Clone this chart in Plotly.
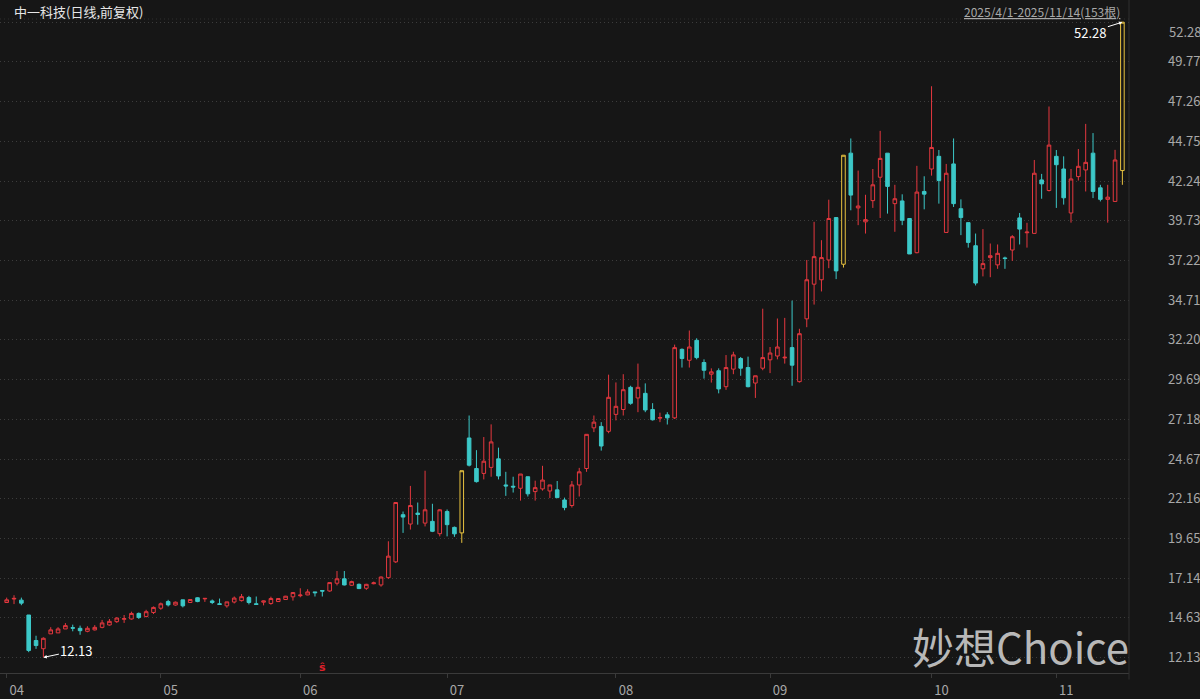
import plotly.graph_objects as go

# 中一科技 日线 前复权 2025/4/1-2025/11/14, 153 bars
opens = [
    15.60, 15.82, 15.75, 14.81, 13.20, 12.68, 13.62, 13.68, 13.93, 14.01,
    13.97, 13.78, 13.87, 14.03, 14.18, 14.39, 14.54, 14.56, 14.91, 14.72,
    14.97, 15.24, 15.66, 15.44, 15.77, 15.60, 15.90, 15.83, 15.70, 15.52,
    15.39, 15.63, 15.72, 15.91, 15.52, 15.62, 15.54, 15.66, 15.79, 15.96,
    16.03, 16.08, 16.27, 16.36, 16.33, 16.82, 17.10, 16.69, 16.75, 16.50,
    16.79, 16.71, 17.17, 18.17, 21.15, 20.56, 21.25, 20.62, 20.73, 19.95,
    21.35, 20.35, 20.00, 26.00, 24.07, 23.76, 24.14, 24.68, 23.03, 22.95,
    22.82, 23.55, 22.61, 22.78, 22.65, 22.72, 22.08, 21.73, 23.03, 24.07,
    26.64, 26.73, 26.42, 27.49, 27.80, 29.20, 28.53, 28.82, 27.80, 27.25,
    27.46, 27.27, 31.60, 30.91, 32.17, 30.77, 30.03, 30.25, 29.24, 30.35,
    31.02, 30.45, 29.47, 30.41, 30.94, 31.18, 31.06, 31.71, 29.56, 33.53,
    35.72, 36.00, 37.25, 39.93, 36.98, 44.00, 40.54, 39.66, 41.00, 42.48,
    44.00, 40.81, 40.98, 39.87, 37.71, 41.58, 43.00, 43.80, 38.99, 43.32,
    40.49, 39.61, 38.15, 36.69, 37.40, 36.94, 37.38, 37.88, 39.91, 38.97,
    38.93, 42.31, 41.64, 43.80, 43.00, 40.22, 42.52, 42.94, 44.00, 41.81,
    41.08, 40.95, 42.90,
]
highs = [
    15.91, 16.06, 15.91, 14.81, 13.50, 13.40, 14.04, 14.04, 14.30, 14.20,
    14.14, 14.10, 14.17, 14.50, 14.56, 14.66, 14.81, 15.02, 14.97, 15.14,
    15.35, 15.60, 15.77, 15.66, 15.77, 15.82, 15.93, 15.86, 15.79, 15.85,
    15.64, 15.98, 16.14, 16.02, 15.98, 15.72, 15.97, 15.88, 16.02, 16.25,
    16.50, 16.44, 16.27, 16.36, 16.88, 17.59, 17.59, 16.98, 16.80, 16.78,
    16.92, 17.25, 19.47, 21.95, 21.35, 22.97, 21.92, 23.93, 21.84, 21.50,
    21.48, 20.40, 23.93, 27.42, 25.23, 26.06, 26.86, 25.39, 23.86, 23.55,
    23.72, 23.55, 23.30, 24.24, 23.03, 23.28, 22.23, 23.28, 24.11, 26.23,
    27.42, 27.00, 30.00, 29.51, 30.03, 29.30, 30.70, 29.45, 28.20, 27.60,
    27.63, 31.90, 31.66, 32.79, 32.30, 30.97, 30.40, 30.40, 31.24, 31.45,
    31.12, 31.14, 29.93, 34.17, 31.75, 33.55, 33.59, 34.68, 32.90, 37.25,
    39.66, 38.50, 41.06, 39.93, 43.87, 44.93, 42.90, 41.37, 43.00, 45.41,
    44.00, 42.00, 41.40, 39.87, 43.20, 42.54, 48.23, 44.20, 43.32, 44.93,
    41.08, 39.61, 38.92, 39.20, 38.29, 38.23, 37.46, 38.82, 40.22, 39.60,
    43.57, 42.69, 46.95, 44.20, 43.80, 43.00, 44.26, 45.85, 45.27, 42.00,
    42.00, 44.21, 52.28,
]
lows = [
    15.58, 15.50, 15.43, 12.46, 12.67, 12.13, 13.62, 13.68, 13.93, 13.78,
    13.56, 13.72, 13.83, 13.97, 14.14, 14.31, 14.31, 14.52, 14.56, 14.66,
    14.87, 15.14, 15.35, 15.40, 15.29, 15.58, 15.62, 15.64, 15.50, 15.48,
    15.27, 15.54, 15.66, 15.48, 15.48, 15.42, 15.46, 15.64, 15.77, 15.72,
    15.93, 16.06, 15.98, 15.98, 16.28, 16.68, 16.68, 16.66, 16.45, 16.40,
    16.75, 16.60, 17.10, 18.10, 20.00, 20.21, 20.52, 20.41, 20.05, 19.78,
    19.78, 19.75, 19.37, 24.20, 23.18, 23.38, 23.55, 23.38, 22.34, 22.55,
    22.04, 22.30, 22.04, 22.67, 22.20, 22.20, 21.43, 21.60, 22.30, 23.86,
    26.37, 25.20, 26.30, 27.11, 27.42, 28.10, 27.63, 27.63, 27.10, 27.00,
    26.85, 27.20, 30.45, 30.45, 30.97, 29.75, 29.50, 28.82, 29.04, 30.03,
    29.93, 29.20, 28.53, 30.28, 30.10, 30.97, 30.70, 29.30, 29.50, 33.00,
    34.43, 35.26, 36.73, 36.04, 36.77, 40.39, 39.45, 38.92, 40.54, 39.90,
    40.18, 39.03, 39.45, 37.63, 37.67, 40.45, 42.58, 40.81, 38.99, 40.60,
    38.82, 38.03, 35.64, 36.21, 36.16, 36.69, 36.69, 37.19, 38.23, 38.03,
    38.93, 41.12, 41.58, 40.54, 40.75, 39.61, 42.27, 41.58, 41.16, 40.95,
    39.61, 40.95, 42.00,
]
closes = [
    15.77, 15.86, 15.56, 12.57, 12.88, 13.34, 13.87, 13.93, 14.14, 13.98,
    13.82, 13.97, 14.03, 14.31, 14.41, 14.62, 14.58, 14.91, 14.66, 15.02,
    15.29, 15.52, 15.45, 15.62, 15.39, 15.79, 15.66, 15.86, 15.60, 15.48,
    15.64, 15.88, 15.97, 15.60, 15.48, 15.70, 15.85, 15.85, 16.00, 16.23,
    16.07, 16.27, 16.22, 16.32, 16.86, 17.10, 16.71, 16.92, 16.48, 16.75,
    16.84, 17.21, 18.53, 21.92, 21.00, 21.73, 21.17, 21.46, 20.10, 21.46,
    20.52, 19.94, 23.93, 24.28, 23.24, 24.53, 25.75, 23.60, 22.97, 22.90,
    23.72, 22.47, 22.86, 23.34, 23.03, 22.23, 21.60, 23.03, 23.86, 26.23,
    27.00, 25.49, 28.57, 28.00, 29.05, 28.19, 29.20, 27.77, 27.15, 27.29,
    27.27, 31.71, 31.02, 31.75, 31.08, 30.28, 30.18, 29.10, 30.45, 31.25,
    30.41, 29.24, 29.93, 31.08, 31.37, 31.75, 31.10, 30.60, 32.59, 36.00,
    37.46, 37.40, 39.87, 36.56, 43.87, 41.35, 40.66, 39.80, 42.00, 43.67,
    41.90, 41.12, 39.76, 37.63, 41.54, 41.41, 44.36, 42.27, 42.73, 40.81,
    39.93, 38.36, 35.79, 37.02, 37.52, 37.67, 37.34, 38.72, 39.20, 39.01,
    42.73, 42.06, 44.51, 43.27, 41.18, 42.37, 43.17, 43.42, 41.58, 41.08,
    41.22, 43.57, 52.28,
]
limit_up = [62, 114, 152]  # 涨停

months = ["04", "05", "06", "07", "08", "09", "10", "11"]
month_start = [0, 21, 40, 60, 83, 104, 126, 143]

price_ticks = [12.13, 14.63, 17.14, 19.65, 22.16, 24.67, 27.18, 29.69, 32.20,
               34.71, 37.22, 39.73, 42.24, 44.75, 47.26, 49.77, 52.28]

title_text = "中一科技(日线,前复权)"
range_text = "2025/4/1-2025/11/14(153根)"

bg = "#161616"
red = "#e5383f"
cyan = "#3cc8c8"
yellow = "#e8c23f"
grid = "#3c3c3c"
txt = "#a8a8a8"
font = "Noto Sans CJK SC"

idx = list(range(len(opens)))
normal = [i for i in idx if i not in limit_up]

fig = go.Figure()

fig.add_trace(go.Candlestick(
    x=normal,
    open=[opens[i] for i in normal],
    high=[highs[i] for i in normal],
    low=[lows[i] for i in normal],
    close=[closes[i] for i in normal],
    increasing=dict(line=dict(color=red, width=1), fillcolor=bg),
    decreasing=dict(line=dict(color=cyan, width=1), fillcolor=cyan),
    hoverinfo="skip",
    showlegend=False,
))
fig.add_trace(go.Candlestick(
    x=limit_up,
    open=[opens[i] for i in limit_up],
    high=[highs[i] for i in limit_up],
    low=[lows[i] for i in limit_up],
    close=[closes[i] for i in limit_up],
    increasing=dict(line=dict(color=yellow, width=1), fillcolor=bg),
    decreasing=dict(line=dict(color=yellow, width=1), fillcolor=yellow),
    hoverinfo="skip",
    showlegend=False,
))

# low / high markers
lo_i = lows.index(min(lows))
hi_i = highs.index(max(highs))
fig.add_annotation(x=lo_i, y=lows[lo_i], text=f"{lows[lo_i]:.2f}", showarrow=True,
                   ax=33, ay=-7, arrowhead=2, arrowsize=0.7, arrowwidth=1,
                   arrowcolor="#ffffff", font=dict(color="#ffffff", size=13, family=font))
fig.add_annotation(x=hi_i, y=highs[hi_i], text=f"{highs[hi_i]:.2f}", showarrow=True,
                   ax=-32, ay=10, arrowhead=2, arrowsize=0.7, arrowwidth=1,
                   arrowcolor="#ffffff", font=dict(color="#ffffff", size=13, family=font))

# 送股 marker
fig.add_annotation(x=43, y=11.5, text="<b>ŝ</b>", showarrow=False,
                   font=dict(color="#e0202a", size=11, family="DejaVu Sans"))

# header texts
fig.add_annotation(xref="paper", yref="paper", x=0, y=1.012, xshift=12,
                   xanchor="left", yanchor="middle", text=title_text, showarrow=False,
                   font=dict(color="#e6e6e6", size=13, family=font))
fig.add_annotation(xref="paper", yref="paper", x=1, y=1.012, xshift=-7,
                   xanchor="right", yanchor="middle", text=f"<u>{range_text}</u>",
                   showarrow=False, font=dict(color=txt, size=12, family=font))

# top price label sits a bit lower than its gridline
fig.add_annotation(xref="paper", yref="y", x=1, y=price_ticks[-1], xshift=38, yshift=-9,
                   xanchor="left", yanchor="middle", text=f"{price_ticks[-1]:.2f}",
                   showarrow=False, font=dict(color=txt, size=13, family=font))

# watermark
fig.add_annotation(xref="paper", yref="paper", x=1, y=0, xanchor="right",
                   yanchor="bottom", yshift=-5, xshift=2, text="妙想Choice", showarrow=False,
                   font=dict(color="rgba(215,215,215,0.85)", size=42, family=font))

# right border + top dotted line
fig.add_shape(type="line", xref="paper", yref="paper", x0=1, x1=1, y0=-0.01, y1=1.03,
              line=dict(color="#2e2e2e", width=1))
fig.add_shape(type="line", xref="paper", yref="paper", x0=0, x1=1, y0=1, y1=1,
              line=dict(color="#2e2e2e", width=1, dash="1px,3px"))

tick_text = [f"{v:.2f}" for v in price_ticks[:-1]] + [""]

fig.update_layout(
    width=1200, height=699,
    paper_bgcolor=bg, plot_bgcolor=bg,
    margin=dict(l=0, r=71, t=19, b=21),
    font=dict(family=font, color=txt),
    xaxis=dict(
        range=[-0.91, 152.9], rangeslider=dict(visible=False),
        tickvals=month_start, ticktext=months, ticks="outside", ticklen=4,
        tickcolor="#3a3a3a", ticklabelshift=10, ticklabelstandoff=1,
        tickfont=dict(size=13, color=txt),
        showgrid=False, zeroline=False, showline=True, linecolor="#3a3a3a",
        linewidth=1,
    ),
    yaxis=dict(
        range=[11.145, 52.48], side="right", tickvals=price_ticks,
        ticktext=tick_text, ticks="", ticklabelstandoff=38,
        tickfont=dict(size=13, color=txt),
        showgrid=True, gridcolor=grid, griddash="1px,3px", gridwidth=1,
        zeroline=False,
    ),
)

fig.write_html("out.html", config={"displayModeBar": False},
               post_script="document.body.style.margin='0';")
